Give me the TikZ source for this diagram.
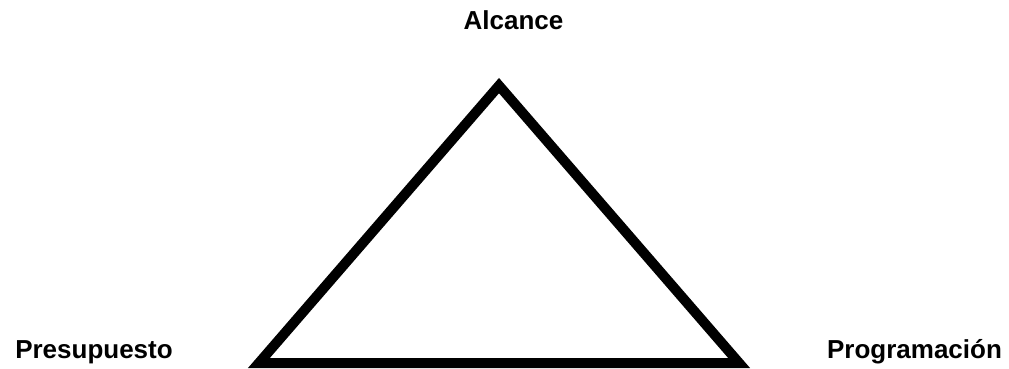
\documentclass[tikz,border=0pt]{standalone}
\usepackage{fontspec}
\setmainfont{Liberation Sans}
\begin{document}
\begin{tikzpicture}[x=1pt,y=-1pt,
  lbl/.style={font=\fontsize{26}{31}\selectfont\bfseries, anchor=base, inner sep=0pt},
  tri/.style={line width=10pt, line join=miter, draw=black}]
\useasboundingbox (0,0) rectangle (1009,368);
\coordinate (top) at (499,85.6);
\coordinate (bl) at (258.9,363);
\coordinate (br) at (739.1,363);
\draw[tri] (top) -- (bl) -- (br) -- cycle;
\node[lbl] (alc) at (513.5,29) {Alcance};
\node[lbl] (pre) at (94,358.3) {Presupuesto};
\node[lbl] (pro) at (914.5,358.3) {Programación};
\end{tikzpicture}
\end{document}
